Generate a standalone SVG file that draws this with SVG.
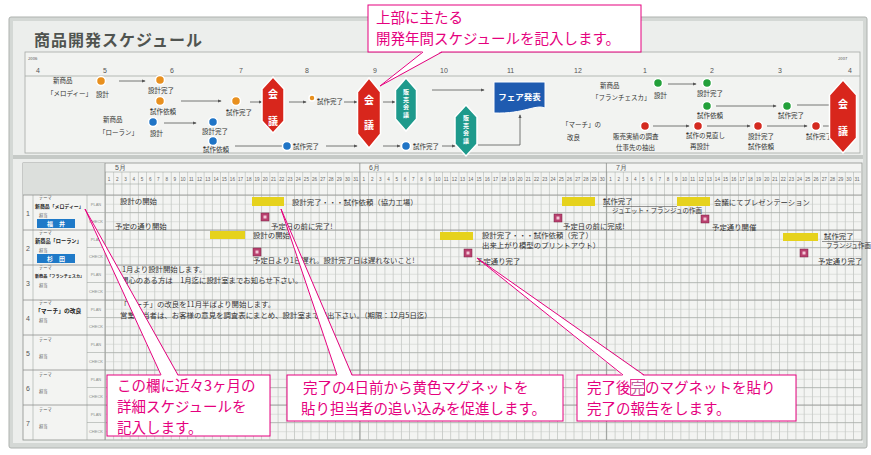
<svg xmlns="http://www.w3.org/2000/svg" xmlns:xlink="http://www.w3.org/1999/xlink" width="871" height="455" viewBox="0 0 871 455">
<style>
.hw{font-family:"Noto Sans CJK JP","Noto Sans",sans-serif;font-size:6.5px;fill:#333}
.hg{font-family:"Noto Sans CJK JP","Noto Sans",sans-serif;font-size:7.4px;fill:#333}
.sm{font-family:"Noto Sans CJK JP","Noto Sans",sans-serif;font-size:4.2px;fill:#555}
.pc{font-family:"Liberation Sans",sans-serif;font-size:4px;fill:#8a8e8a;text-anchor:middle}
.dn{font-family:"Liberation Sans",sans-serif;font-size:4.6px;fill:#666;text-anchor:middle}
.mo{font-family:"Liberation Sans",sans-serif;font-size:7px;fill:#555}
.th{font-family:"Noto Sans CJK JP","Noto Sans",sans-serif;fill:#222;font-weight:bold}
.ln{stroke:#555;stroke-width:0.8;fill:none}
.ar{marker-end:url(#ah)}
.ym{fill:#e6d21c}
.hexr{fill:#d8261c;stroke:#fff;stroke-width:1.5}
.hext{fill:#1e9a8c;stroke:#fff;stroke-width:1.5}
.hx{font-family:"Noto Sans CJK JP",sans-serif;font-size:10px;font-weight:bold;fill:#fff;text-anchor:middle}
.hs{font-family:"Noto Sans CJK JP",sans-serif;font-size:6px;font-weight:bold;fill:#fff;text-anchor:middle}
.co{fill:#fff;stroke:#e5007e;stroke-width:1}
.ct{font-family:"Noto Sans CJK JP","Noto Sans",sans-serif;font-size:14.5px;fill:#e5007e}
.po{fill:#fff;stroke:none}
.pl{fill:none;stroke:#e5007e;stroke-width:1}
.dO{fill:#e8901f;stroke:#fff;stroke-width:1.5}
.dB{fill:#1f74c6;stroke:#fff;stroke-width:1.5}
.dG{fill:#23a03a;stroke:#fff;stroke-width:1.5}
.dR{fill:#d42a20;stroke:#fff;stroke-width:1.5}
.rb{stroke:#8d918d;stroke-width:0.8}
.sb{stroke:#a3a7a3;stroke-width:0.6}
</style>
<defs>
<marker id="ah" viewBox="0 0 6 6" refX="5" refY="3" markerWidth="5" markerHeight="5" orient="auto"><path d="M0,0.5 L6,3 L0,5.5 z" fill="#555"/></marker>
<pattern id="vg" x="105" y="0" width="8.22" height="20" patternUnits="userSpaceOnUse"><rect x="0" y="0" width="0.6" height="20" fill="#b6bab6"/></pattern>
<pattern id="hg" x="0" y="195" width="20" height="8.75" patternUnits="userSpaceOnUse"><rect x="0" y="0" width="20" height="0.5" fill="#c4c8c4"/></pattern>
<g id="mag"><rect x="0" y="0" width="8" height="8" fill="#b9416f" stroke="#7a2244" stroke-width="0.5"/><rect x="2.5" y="2.5" width="3" height="3" fill="#f3c6d6"/></g>
</defs>

<rect width="871" height="455" fill="#fff"/>

<g id="board">
<rect x="9" y="17" width="858" height="431" rx="2" fill="#d4d8d5" stroke="#aeb2af" stroke-width="1"/>
<rect x="13" y="21" width="850" height="134" fill="#eceeec"/>
<rect x="13" y="155" width="850" height="4" fill="#c6cac7"/>
<rect x="13" y="159" width="850" height="284" fill="#eceeec"/>
<text x="34" y="46" font-family="Noto Sans CJK JP,sans-serif" font-size="16" font-weight="bold" fill="#505450" letter-spacing="1">商品開発スケジュール</text>
</g>

<g id="timeline">
<rect x="25" y="52" width="835" height="101" fill="#f2f3f1" stroke="#a5a9a6" stroke-width="0.8"/>
<line x1="25" y1="76" x2="860" y2="76" stroke="#a5a9a6" stroke-width="0.8"/>
<text class="sm" x="28" y="60" font-size="6" fill="#666">2006</text>
<text class="sm" x="838" y="60" font-size="6" fill="#666">2007</text>
<g class="mo">
<text x="36" y="73">4</text><text x="103" y="73">5</text><text x="170" y="73">6</text><text x="239" y="73">7</text><text x="305" y="73">8</text><text x="373" y="73">9</text><text x="440" y="73">10</text><text x="507" y="73">11</text><text x="574" y="73">12</text><text x="643" y="73">1</text><text x="710" y="73">2</text><text x="778" y="73">3</text><text x="848" y="73">4</text>
</g>
</g>

<g id="connectors">
<line class="ln ar" x1="119" y1="81" x2="145" y2="81"/>
<line class="ln ar" x1="181" y1="101" x2="221" y2="101"/>
<line class="ln ar" x1="250" y1="102" x2="262" y2="102"/>
<line class="ln ar" x1="289" y1="102" x2="306" y2="102"/>
<line class="ln ar" x1="344" y1="102" x2="357" y2="102"/>
<line class="ln ar" x1="383" y1="102" x2="395" y2="102"/>
<line class="ln ar" x1="432" y1="90" x2="484" y2="90"/>
<polyline class="ln ar" points="478,145 520,145 520,115"/>
<line class="ln ar" x1="164" y1="123" x2="196" y2="123"/>
<line class="ln" x1="235" y1="146" x2="282" y2="146"/>
<line class="ln ar" x1="326" y1="146" x2="357" y2="146"/>
<line class="ln ar" x1="383" y1="146" x2="400" y2="146"/>
<line class="ln ar" x1="442" y1="146" x2="455" y2="146"/>
<line class="ln ar" x1="668" y1="84" x2="696" y2="84"/>
<line class="ln ar" x1="716" y1="106" x2="776" y2="106"/>
<line class="ln" x1="797" y1="105" x2="830" y2="105"/>
<line class="ln ar" x1="653" y1="126" x2="689" y2="126"/>
<line class="ln ar" x1="707" y1="126" x2="750" y2="126"/>
<line class="ln ar" x1="767" y1="126" x2="807" y2="126"/>
<line class="ln" x1="823" y1="126" x2="831" y2="126"/>
</g>

<g id="melody">
<text class="hw" x="53" y="83">新商品</text>
<text class="hw" x="47" y="96">「メロディー」</text>
<circle class="dO" cx="101" cy="81" r="4.5"/><text class="hw" x="96" y="97">設計</text>
<circle class="dO" cx="160" cy="80" r="4.5"/><text class="hw" x="148" y="93">設計完了</text>
<circle class="dO" cx="160" cy="101" r="4.5"/><text class="hw" x="150" y="114">試作依頼</text>
<circle class="dO" cx="236" cy="101" r="4.5"/><text class="hw" x="226" y="115">試作完了</text>
<circle class="dO" cx="312" cy="98" r="3"/><text class="hw" x="317" y="104">試作完了</text>
</g>

<g id="loran">
<text class="hw" x="103" y="122">新商品</text>
<text class="hw" x="99" y="135">「ローラン」</text>
<circle class="dB" cx="153" cy="122" r="4.5"/><text class="hw" x="150" y="136">設計</text>
<circle class="dB" cx="213" cy="122" r="4.5"/><text class="hw" x="202" y="134">設計完了</text>
<circle class="dB" cx="213" cy="141" r="4.5"/><text class="hw" x="203" y="152">試作依頼</text>
<circle class="dB" cx="287" cy="146" r="4.5"/><text class="hw" x="293" y="149">試作完了</text>
<circle class="dB" cx="406" cy="146" r="4.5"/><text class="hw" x="413" y="149">試作完了</text>
</g>

<g id="meeting1"><polygon class="hexr" points="273,77 284,89 284,121 273,133 262,121 262,89"/><text class="hx" x="273" y="98">会</text><text class="hx" x="273" y="125">議</text></g>
<g id="meeting2"><polygon class="hexr" points="369,78 380.5,92 380.5,134 369,148 357.5,134 357.5,92"/><text class="hx" x="369" y="104">会</text><text class="hx" x="369" y="129">議</text></g>
<g id="sales1"><polygon class="hext" points="406,78 416.5,90 416.5,119 406,131 395.5,119 395.5,90"/><text class="hs" x="406" y="94">販</text><text class="hs" x="406" y="101.5">売</text><text class="hs" x="406" y="109">会</text><text class="hs" x="406" y="116.5">議</text></g>
<g id="sales2"><polygon class="hext" points="466,105 477,117 477,144 466,156 455,144 455,117"/><text class="hs" x="466" y="120">販</text><text class="hs" x="466" y="127.5">売</text><text class="hs" x="466" y="135">会</text><text class="hs" x="466" y="142.5">議</text></g>
<g id="fair"><path d="M494,82 H545 V108 C535,104 525,114 494,113 Z" fill="#1f5bb0" stroke="#fff" stroke-width="1"/><text x="519.5" y="100" text-anchor="middle" font-family="Noto Sans CJK JP,sans-serif" font-size="8.5" font-weight="bold" fill="#fff">フェア発表</text></g>

<g id="francesca">
<text class="hw" x="600" y="88">新商品</text>
<text class="hw" x="592" y="100">「フランチェスカ」</text>
<circle class="dG" cx="658" cy="83" r="4.5"/><text class="hw" x="654" y="98">設計</text>
<circle class="dG" cx="707" cy="83" r="4.5"/><text class="hw" x="697" y="96">設計完了</text>
<circle class="dG" cx="707" cy="106" r="4.5"/><text class="hw" x="697" y="118">試作依頼</text>
<circle class="dG" cx="787" cy="106" r="4.5"/><text class="hw" x="778" y="118">試作完了</text>
</g>

<g id="march">
<text class="hw" x="562" y="127">「マーチ」の</text>
<text class="hw" x="567" y="140">改良</text>
<circle class="dR" cx="645" cy="126" r="4.5"/><text class="hw" x="613" y="139">販売実績の調査</text><text class="hw" x="616" y="150">仕事先の抽出</text>
<circle class="dR" cx="698" cy="126" r="4.5"/><text class="hw" x="686" y="138">試作の見直し</text><text class="hw" x="690" y="149">再設計</text>
<circle class="dR" cx="758" cy="126" r="4.5"/><text class="hw" x="748" y="139">設計完了</text><text class="hw" x="748" y="149">試作依頼</text>
<circle class="dR" cx="816" cy="126" r="4.5"/><text class="hw" x="806" y="139">試作完了</text>
</g>
<g id="meeting3"><polygon class="hexr" points="843,80 856.5,95 856.5,138 843,153 829.5,138 829.5,95"/><text class="hx" x="843" y="108" font-size="11">会</text><text class="hx" x="843" y="135" font-size="11">議</text></g>

<g id="table">
<rect x="23" y="163" width="839" height="277" fill="#f3f4f2" stroke="#8d918d" stroke-width="0.8"/>
<rect x="23" y="163" width="82" height="32" fill="#dcdfdc"/>
<rect x="105" y="172" width="756" height="268" fill="url(#vg)"/>
<rect x="105" y="195" width="756" height="245" fill="url(#hg)"/>
<line class="sb" x1="105" y1="172" x2="861" y2="172"/>
<line class="sb" x1="105" y1="184" x2="861" y2="184"/>
<line class="rb" x1="105" y1="163" x2="105" y2="440"/>
<line class="rb" x1="359.8" y1="163" x2="359.8" y2="440"/>
<line class="rb" x1="606.4" y1="163" x2="606.4" y2="440"/>
<line class="sb" x1="33" y1="195" x2="33" y2="440"/>
<line class="sb" x1="87" y1="195" x2="87" y2="440"/>
<g class="rb">
<line x1="23" y1="195" x2="862" y2="195"/><line x1="23" y1="230" x2="862" y2="230"/><line x1="23" y1="265" x2="862" y2="265"/><line x1="23" y1="300" x2="862" y2="300"/><line x1="23" y1="335" x2="862" y2="335"/><line x1="23" y1="370" x2="862" y2="370"/><line x1="23" y1="405" x2="862" y2="405"/>
</g>
<g class="sb">
<line x1="87" y1="212.5" x2="862" y2="212.5"/><line x1="87" y1="247.5" x2="862" y2="247.5"/><line x1="87" y1="282.5" x2="862" y2="282.5"/><line x1="87" y1="317.5" x2="862" y2="317.5"/><line x1="87" y1="352.5" x2="862" y2="352.5"/><line x1="87" y1="387.5" x2="862" y2="387.5"/><line x1="87" y1="422.5" x2="862" y2="422.5"/>
</g>
<text class="mo" x="115" y="170" font-size="6">5月</text>
<text class="mo" x="369" y="170" font-size="6">6月</text>
<text class="mo" x="616" y="170" font-size="6">7月</text>
<text class="dn" y="181"><tspan x="109.1">1</tspan><tspan x="117.3">2</tspan><tspan x="125.6">3</tspan><tspan x="133.8">4</tspan><tspan x="142.0">5</tspan><tspan x="150.2">6</tspan><tspan x="158.4">7</tspan><tspan x="166.7">8</tspan><tspan x="174.9">9</tspan><tspan x="183.1">10</tspan><tspan x="191.3">11</tspan><tspan x="199.5">12</tspan><tspan x="207.8">13</tspan><tspan x="216.0">14</tspan><tspan x="224.2">15</tspan><tspan x="232.4">16</tspan><tspan x="240.6">17</tspan><tspan x="248.9">18</tspan><tspan x="257.1">19</tspan><tspan x="265.3">20</tspan><tspan x="273.5">21</tspan><tspan x="281.7">22</tspan><tspan x="290.0">23</tspan><tspan x="298.2">24</tspan><tspan x="306.4">25</tspan><tspan x="314.6">26</tspan><tspan x="322.8">27</tspan><tspan x="331.1">28</tspan><tspan x="339.3">29</tspan><tspan x="347.5">30</tspan><tspan x="355.7">31</tspan><tspan x="363.9">1</tspan><tspan x="372.2">2</tspan><tspan x="380.4">3</tspan><tspan x="388.6">4</tspan><tspan x="396.8">5</tspan><tspan x="405.0">6</tspan><tspan x="413.3">7</tspan><tspan x="421.5">8</tspan><tspan x="429.7">9</tspan><tspan x="437.9">10</tspan><tspan x="446.1">11</tspan><tspan x="454.4">12</tspan><tspan x="462.6">13</tspan><tspan x="470.8">14</tspan><tspan x="479.0">15</tspan><tspan x="487.2">16</tspan><tspan x="495.5">17</tspan><tspan x="503.7">18</tspan><tspan x="511.9">19</tspan><tspan x="520.1">20</tspan><tspan x="528.3">21</tspan><tspan x="536.6">22</tspan><tspan x="544.8">23</tspan><tspan x="553.0">24</tspan><tspan x="561.2">25</tspan><tspan x="569.4">26</tspan><tspan x="577.7">27</tspan><tspan x="585.9">28</tspan><tspan x="594.1">29</tspan><tspan x="602.3">30</tspan><tspan x="610.5">1</tspan><tspan x="618.8">2</tspan><tspan x="627.0">3</tspan><tspan x="635.2">4</tspan><tspan x="643.4">5</tspan><tspan x="651.6">6</tspan><tspan x="659.9">7</tspan><tspan x="668.1">8</tspan><tspan x="676.3">9</tspan><tspan x="684.5">10</tspan><tspan x="692.7">11</tspan><tspan x="701.0">12</tspan><tspan x="709.2">13</tspan><tspan x="717.4">14</tspan><tspan x="725.6">15</tspan><tspan x="733.8">16</tspan><tspan x="742.1">17</tspan><tspan x="750.3">18</tspan><tspan x="758.5">19</tspan><tspan x="766.7">20</tspan><tspan x="774.9">21</tspan><tspan x="783.2">22</tspan><tspan x="791.4">23</tspan><tspan x="799.6">24</tspan><tspan x="807.8">25</tspan><tspan x="816.0">26</tspan><tspan x="824.3">27</tspan><tspan x="832.5">28</tspan><tspan x="840.7">29</tspan><tspan x="848.9">30</tspan><tspan x="857.1">31</tspan></text>
</g>

<g id="rowlabels">
<g class="mo" font-size="6"><text x="26" y="216">1</text><text x="26" y="251">2</text><text x="26" y="286">3</text><text x="26" y="321">4</text><text x="26" y="356">5</text><text x="26" y="391">6</text><text x="26" y="426">7</text></g>
<g class="pc">
<text x="96" y="206">PLAN</text><text x="96" y="223">CHECK</text>
<text x="96" y="241">PLAN</text><text x="96" y="258">CHECK</text>
<text x="96" y="276">PLAN</text><text x="96" y="293">CHECK</text>
<text x="96" y="311">PLAN</text><text x="96" y="328">CHECK</text>
<text x="96" y="346">PLAN</text><text x="96" y="363">CHECK</text>
<text x="96" y="381">PLAN</text><text x="96" y="398">CHECK</text>
<text x="96" y="416">PLAN</text><text x="96" y="433">CHECK</text>
</g>
<g class="sm">
<text x="39" y="199">テーマ</text><text x="39" y="217">担当</text>
<text x="39" y="234">テーマ</text><text x="39" y="252">担当</text>
<text x="39" y="269">テーマ</text><text x="39" y="287">担当</text>
<text x="39" y="304">テーマ</text><text x="39" y="322">担当</text>
<text x="39" y="341">テーマ</text><text x="39" y="358">担当</text>
<text x="39" y="376">テーマ</text><text x="39" y="393">担当</text>
<text x="39" y="411">テーマ</text><text x="39" y="428">担当</text>
</g>
<text class="th" x="35" y="208" font-size="4.9">新商品「メロディー」</text>
<text class="th" x="35" y="243" font-size="5.2">新商品「ローラン」</text>
<text class="th" x="35" y="278" font-size="4.1">新商品「フランチェスカ」</text>
<text class="th" x="35" y="313" font-size="5.8">「マーチ」の改良</text>
<rect x="37" y="219" width="38" height="9" fill="#1f7ac8"/><text x="56" y="226" text-anchor="middle" font-family="Noto Sans CJK JP,sans-serif" font-size="6" font-weight="bold" fill="#fff">福　井</text>
<rect x="37" y="254" width="38" height="9" fill="#1f7ac8"/><text x="56" y="261" text-anchor="middle" font-family="Noto Sans CJK JP,sans-serif" font-size="6" font-weight="bold" fill="#fff">杉　田</text>
</g>

<g id="entries">
<text class="hg" x="120" y="204">設計の開始</text>
<rect class="ym" x="252" y="197" width="32" height="9"/>
<text class="hg" x="292" y="205">設計完了・・・試作依頼（協力工場）</text>
<rect class="ym" x="562" y="197" width="33" height="9"/>
<text class="hg" x="603" y="203.5">試作完了</text>
<line x1="603" y1="206.5" x2="677" y2="206.5" stroke="#333" stroke-width="0.5"/>
<text class="hw" x="612" y="213" font-size="5.3">ジュエット・フランジュの作画</text>
<rect class="ym" x="677" y="197" width="33" height="9"/>
<text class="hg" x="714" y="205">会議にてプレゼンテーション</text>

<text class="hg" x="115" y="229">予定の通り開始</text>
<use xlink:href="#mag" x="261" y="213"/>
<text class="hg" x="271" y="229">予定日の前に完了!</text>
<use xlink:href="#mag" x="554" y="214"/>
<text class="hg" x="563" y="228.5">予定日の前に完成!</text>
<use xlink:href="#mag" x="701" y="215"/>
<text class="hg" x="712" y="230">予定通り開催</text>

<rect class="ym" x="210" y="231" width="35" height="8"/>
<text class="hg" x="253" y="238">設計の開始</text>
<rect class="ym" x="440" y="232" width="33" height="8"/>
<text class="hg" x="482" y="238" font-size="5.8">設計完了・・・試作依頼（完了）</text>
<text class="hg" x="482" y="248" font-size="5.8">出来上がり模型のプリントアウト）</text>
<rect class="ym" x="783" y="233" width="35" height="8"/>
<text class="hg" x="824" y="239" font-size="6.8">試作完了</text>
<line x1="822" y1="241.5" x2="861" y2="241.5" stroke="#333" stroke-width="0.5"/>
<text class="hw" x="826" y="247.5" font-size="4.8">フランジュ作画</text>

<use xlink:href="#mag" x="253" y="248"/>
<text class="hg" x="253" y="263">予定日より1日遅れ。設計完了日は遅れないこと!</text>
<use xlink:href="#mag" x="464" y="249"/>
<text class="hg" x="476" y="264">予定通り完了</text>
<use xlink:href="#mag" x="800" y="249"/>
<text class="hg" x="818" y="264" font-size="6.8">予定通り完了</text>

<text class="hg" x="122" y="272">1月より設計開始します。</text>
<text class="hg" x="121" y="283">関心のある方は　1月迄に設計室までお知らせ下さい。</text>
<text class="hg" x="120" y="307">「マーチ」の改良を11月半ばより開始します。</text>
<text class="hg" x="120" y="318">営業担当者は、お客様の意見を調査表にまとめ、設計室まで提出下さい。（期限：12月5日迄）</text>
</g>

<g id="callouts">
<g id="callout-top">
<rect class="co" x="368" y="5" width="273" height="47"/>
<polygon class="po" points="423,51 442,51 380,86"/>
<polyline class="pl" points="423,52 380,86 442,52"/>
<text class="ct" x="376" y="23">上部に主たる</text>
<text class="ct" x="376" y="44">開発年間スケジュールを記入します。</text>
</g>
<g id="callout-left">
<rect class="co" x="107" y="375" width="163" height="61"/>
<polygon class="po" points="161,376 178,376 85,209"/>
<polyline class="pl" points="161,375 85,209 178,375"/>
<text class="ct" x="117" y="391">この欄に近々3ヶ月の</text>
<text class="ct" x="117" y="412">詳細スケジュールを</text>
<text class="ct" x="117" y="433">記入します。</text>
</g>
<g id="callout-mid">
<rect class="co" x="287" y="375" width="276" height="46"/>
<polygon class="po" points="337,376 352,376 281,209"/>
<polyline class="pl" points="337,375 281,209 352,375"/>
<text class="ct" x="303" y="393">完了の4日前から黄色マグネットを</text>
<text class="ct" x="301" y="414">貼り担当者の追い込みを促進します。</text>
</g>
<g id="callout-right">
<rect class="co" x="577" y="375" width="219" height="46"/>
<polygon class="po" points="623,376 644,376 477,258"/>
<polyline class="pl" points="623,375 477,258 644,375"/>
<text class="ct" x="587" y="393">完了後<tspan fill="#c0609a">完</tspan>のマグネットを貼り</text>
<rect x="630.7" y="379.5" width="13.8" height="16" fill="none" stroke="#e5007e" stroke-width="0.8"/>
<text class="ct" x="587" y="414">完了の報告をします。</text>
</g>
</g>
</svg>
